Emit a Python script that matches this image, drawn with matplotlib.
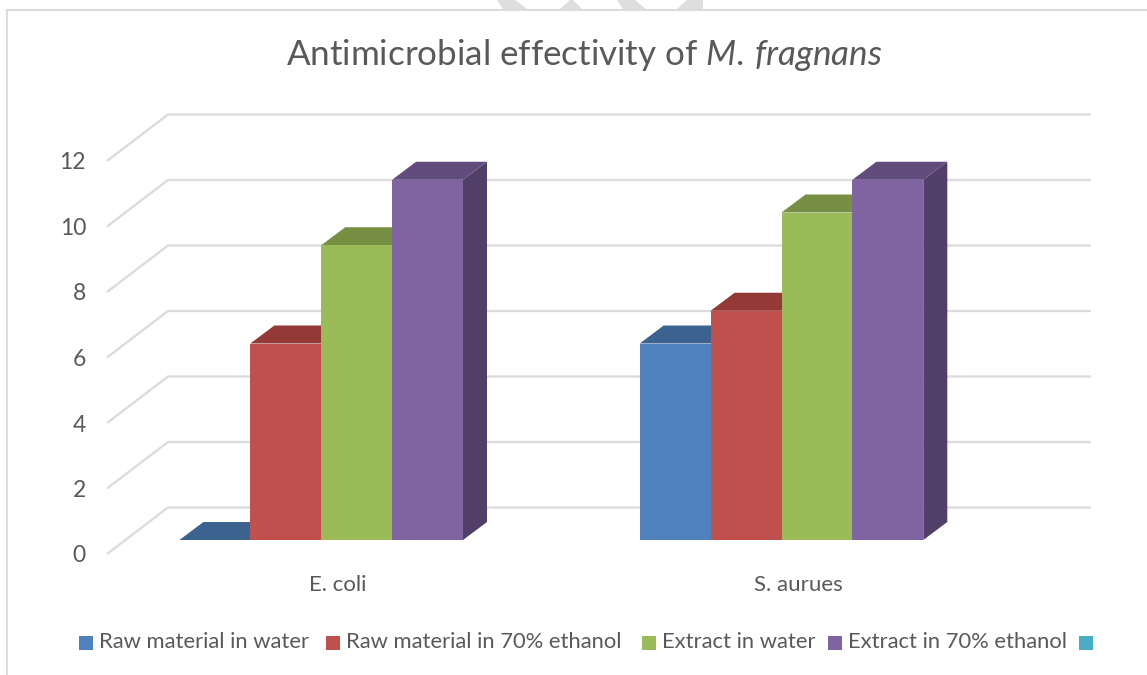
#!/usr/bin/env python3
"""
Antimicrobial effectivity chart, Excel style fake-3D clustered columns.
"""
import matplotlib
matplotlib.use("Agg")
import matplotlib.pyplot as plt
from matplotlib.patches import Polygon, Rectangle

categories = ["E. coli", "S. aurues"]
series_names = ["Raw material in water", "Raw material in 70% ethanol",
                "Extract in water", "Extract in 70% ethanol", " "]
raw_water = [0, 6]
raw_ethanol = [6, 7]
extract_water = [9, 10]
extract_ethanol = [11, 11]
y_ticks = [0, 2, 4, 6, 8, 10, 12]

front = ["#4F81BD", "#C0504D", "#9BBB59", "#8064A2", "#4BACC6"]
top = ["#3C6390", "#933A38", "#778F43", "#624C7D"]
side = ["#335379", "#7B302F", "#637838", "#523F69"]
TEXT = "#595959"
GRID = "#DCDCDC"

W, H = 1147, 675
plt.rcParams['font.family'] = ['Lato', 'DejaVu Sans']
plt.rcParams['mathtext.fontset'] = 'custom'
plt.rcParams['mathtext.it'] = 'Lato:italic'
plt.rcParams['mathtext.rm'] = 'Lato'

fig = plt.figure(figsize=(W / 100, H / 100), dpi=100)

# axes: x in category units (460 px each), y in value units (32.75 px each)
PX_X, PX_Y = 460.3, 32.75
left_px, right_px = 107, 1091
base_px = 540
center_px = 321.2
ax_top_px, ax_bot_px = 100, 560
ax = fig.add_axes([left_px / W, 1 - ax_bot_px / H, (right_px - left_px) / W,
                   (ax_bot_px - ax_top_px) / H])
ax.set_xlim((left_px - center_px) / PX_X, (right_px - center_px) / PX_X)
ax.set_ylim((base_px - ax_bot_px) / PX_Y, (base_px - ax_top_px) / PX_Y)
ax.axis("off")

# depth offsets
wall_dx, wall_dy = 61 / PX_X, 46.5 / PX_Y
floor_dy = -14 / PX_Y
bar_dx, bar_dy = 24 / PX_X, 18 / PX_Y
bar_w = 70.9 / PX_X

x0 = ax.get_xlim()[0]
x1 = ax.get_xlim()[1]
for t in y_ticks:
    yf = t + floor_dy
    ax.plot([x0, x0 + wall_dx, x1], [yf, yf + wall_dy, yf + wall_dy],
            color=GRID, lw=1.7, solid_joinstyle="miter", solid_capstyle="butt",
            clip_on=False, zorder=1)
    ax.text(x0 - 21 / PX_X, yf - 2.0 / PX_Y, str(t), ha="right", va="center",
            fontsize=16.5, color=TEXT)

all_series = [raw_water, raw_ethanol, extract_water, extract_ethanol]
for g in range(len(categories)):
    for s, vals in enumerate(all_series):
        v = vals[g]
        xl = g + (s - 2) * bar_w
        xr = xl + bar_w
        z = 2 + s
        ax.add_patch(Polygon([(xl, v), (xr, v), (xr + bar_dx, v + bar_dy), (xl + bar_dx, v + bar_dy)],
                             closed=True, fc=top[s], ec="none", zorder=z))
        if s == len(all_series) - 1:
            ax.add_patch(Polygon([(xr, 0), (xr + bar_dx, bar_dy), (xr + bar_dx, v + bar_dy), (xr, v)],
                                 closed=True, fc=side[s], ec="none", zorder=z))
        if v > 0:
            ax.bar(xl, v, width=bar_w, align="edge", color=front[s], zorder=z + 0.5)

# category labels sit centred on the floor, a bit right of the bars
for g, name in enumerate(categories):
    ax.text(g + 17 / PX_X, -45 / PX_Y, name, ha="center", va="center", fontsize=16,
            color=TEXT, clip_on=False)

# title, outer frame and legend live in figure pixel coords
def fx(px):
    return px / W

def fy(px):
    return 1 - px / H

fig.text(fx(584), fy(55), r"Antimicrobial effectivity of $\mathit{M.\,fragnans}$",
         ha="center", va="center", fontsize=25.2, color=TEXT)

fig.add_artist(plt.Line2D([fx(7.5), fx(7.5)], [fy(9.5), 0], color=GRID, lw=1.5))
fig.add_artist(plt.Line2D([fx(7.5), 1], [fy(9.5), fy(9.5)], color=GRID, lw=1.5))

# bits of the page watermark poking in above the frame
stripes = [[(497, 0), (515, 0), (527, 9), (503, 9)],
           [(570, 0), (573, 0), (582, 9), (560, 9)],
           [(617, 0), (635, 0), (646, 9), (623, 9)],
           [(687, 0), (703, 0), (703, 9), (677, 9)]]
for st in stripes:
    fig.add_artist(Polygon([(fx(a), fy(b)) for a, b in st], closed=True, fc="#DEDEDE", ec="none",
                           transform=fig.transFigure))

legend_x = [79, 326, 642, 828, 1079]
for i, name in enumerate(series_names):
    fig.add_artist(Rectangle((fx(legend_x[i]), fy(649.5)), 14 / W, 14 / H, fc=front[i], ec="none",
                             transform=fig.transFigure))
    fig.text(fx(legend_x[i] + 20), fy(642.5), name, ha="left", va="center", fontsize=15.8,
             color=TEXT)

fig.savefig("out.png", dpi=100)
